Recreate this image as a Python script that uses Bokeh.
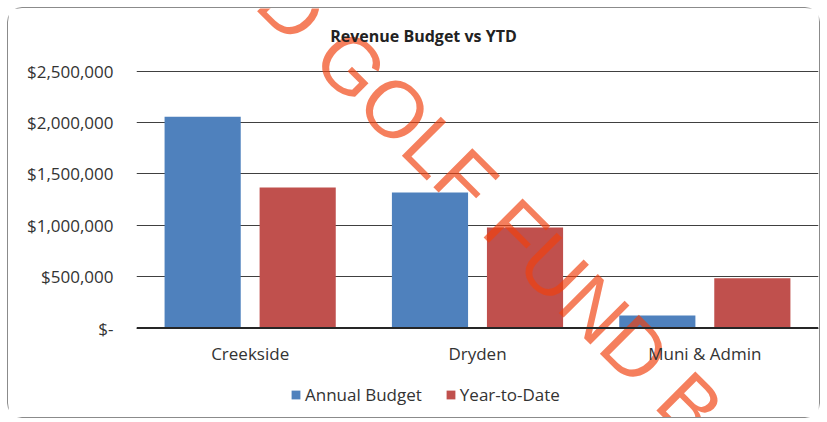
from bokeh.plotting import figure
from bokeh.models import (ColumnDataSource, FactorRange, Range1d, NumeralTickFormatter,
                          Legend, LegendItem, Label, Span)
from bokeh.core.properties import value
from bokeh.transform import dodge
from bokeh.embed import file_html
from bokeh.resources import INLINE

# ---- data ----
categories = ["Creekside", "Dryden", "Muni & Admin"]
annual_budget = [2055000, 1318000, 122000]
year_to_date = [1367000, 978000, 484000]
series_names = ["Annual Budget", "Year-to-Date"]
y_ticks = [0, 500000, 1000000, 1500000, 2000000, 2500000]
title_text = "Revenue Budget vs YTD"
watermark_text = "D GOLF FUND B"

# ---- layout constants (canvas pixels) ----
W, H = 813, 411
FL, FR = 128, 810          # frame left/right
Y0_PX, YTOP_PX = 319.5, 62.5   # pixel rows of 0 and of the top tick
Y_MAX = y_ticks[-1]
PX_PER_UNIT = (Y0_PX - YTOP_PX) / Y_MAX
FONT = "Open Sans"
TXT = "#333333"


def dx(cx):
    return (cx - FL) / (FR - FL) * len(categories)


def dy(cy):
    return (Y0_PX - cy) / PX_PER_UNIT


src = ColumnDataSource(dict(cat=categories, annual=annual_budget, ytd=year_to_date))

p = figure(x_range=FactorRange(factors=categories), y_range=Range1d(dy(H), dy(0)),
           width=W, height=H, output_backend="svg", toolbar_location=None, tools="",
           title=None, min_border_left=FL, min_border_right=W - FR, min_border_top=0,
           min_border_bottom=0)
p.styles = {"margin-left": "7px", "margin-top": "7px",
            "border": "1px solid #8b8b8b", "border-radius": "15px"}
p.outline_line_color = None
p.background_fill_color = "white"
p.border_fill_color = "white"

bar_w = 0.335
off = 0.209
blue = p.vbar(x=dodge("cat", -off, range=p.x_range), top="annual", width=bar_w, source=src,
              fill_color="#4F81BD", line_color=None)
red = p.vbar(x=dodge("cat", off, range=p.x_range), top="ytd", width=bar_w, source=src,
             fill_color="#C0504D", line_color=None)

# watermark over the bars, under the texts
wm = Label(x=dx(482), y=dy(197), text=watermark_text, angle=-45, angle_units="deg",
           text_align="center", text_baseline="middle", text_font="Liberation Sans",
           text_font_size="80px", text_color="#F0400E", text_alpha=0.67, level="glyph")
p.renderers.append(wm)

# axes / grid
p.xaxis.visible = False
p.xgrid.grid_line_color = None
p.ygrid.grid_line_color = "#404040"
p.ygrid.grid_line_width = 1
p.yaxis.ticker = y_ticks
p.yaxis.formatter = NumeralTickFormatter(format="$0,0")
p.yaxis.major_label_overrides = {0: "$-"}
p.yaxis.axis_line_color = None
p.yaxis.major_tick_line_color = None
p.yaxis.minor_tick_line_color = None
p.yaxis.major_tick_out = 0
p.yaxis.major_label_standoff = 23
p.yaxis.major_label_text_font = FONT
p.yaxis.major_label_text_font_size = "17px"
p.yaxis.major_label_text_color = TXT

# category axis line and labels
p.add_layout(Span(location=0, dimension="width", line_color="#262626", line_width=2))
p.text(x=categories, y=[dy(345)] * len(categories), text=categories,
       text_align="center", text_baseline="middle", text_font=value(FONT),
       text_font_size="17px", text_color=TXT)

# title
title = Label(x=dx(415), y=dy(27), text=title_text, text_align="center",
              text_baseline="middle", text_font=FONT, text_font_style="bold",
              text_font_size="16px", text_color="#222222")
p.add_layout(title)

# legend
legend = Legend(items=[LegendItem(label=series_names[0], renderers=[blue]),
                       LegendItem(label=series_names[1], renderers=[red])],
                location=(154, 13), orientation="horizontal",
                glyph_width=11, glyph_height=11, label_standoff=4, spacing=23,
                padding=0, margin=0, border_line_color=None, background_fill_alpha=0,
                label_text_font=FONT, label_text_font_size="17px",
                label_text_color=TXT)
p.add_layout(legend)

open("out.html", "w").write(file_html(p, INLINE))
